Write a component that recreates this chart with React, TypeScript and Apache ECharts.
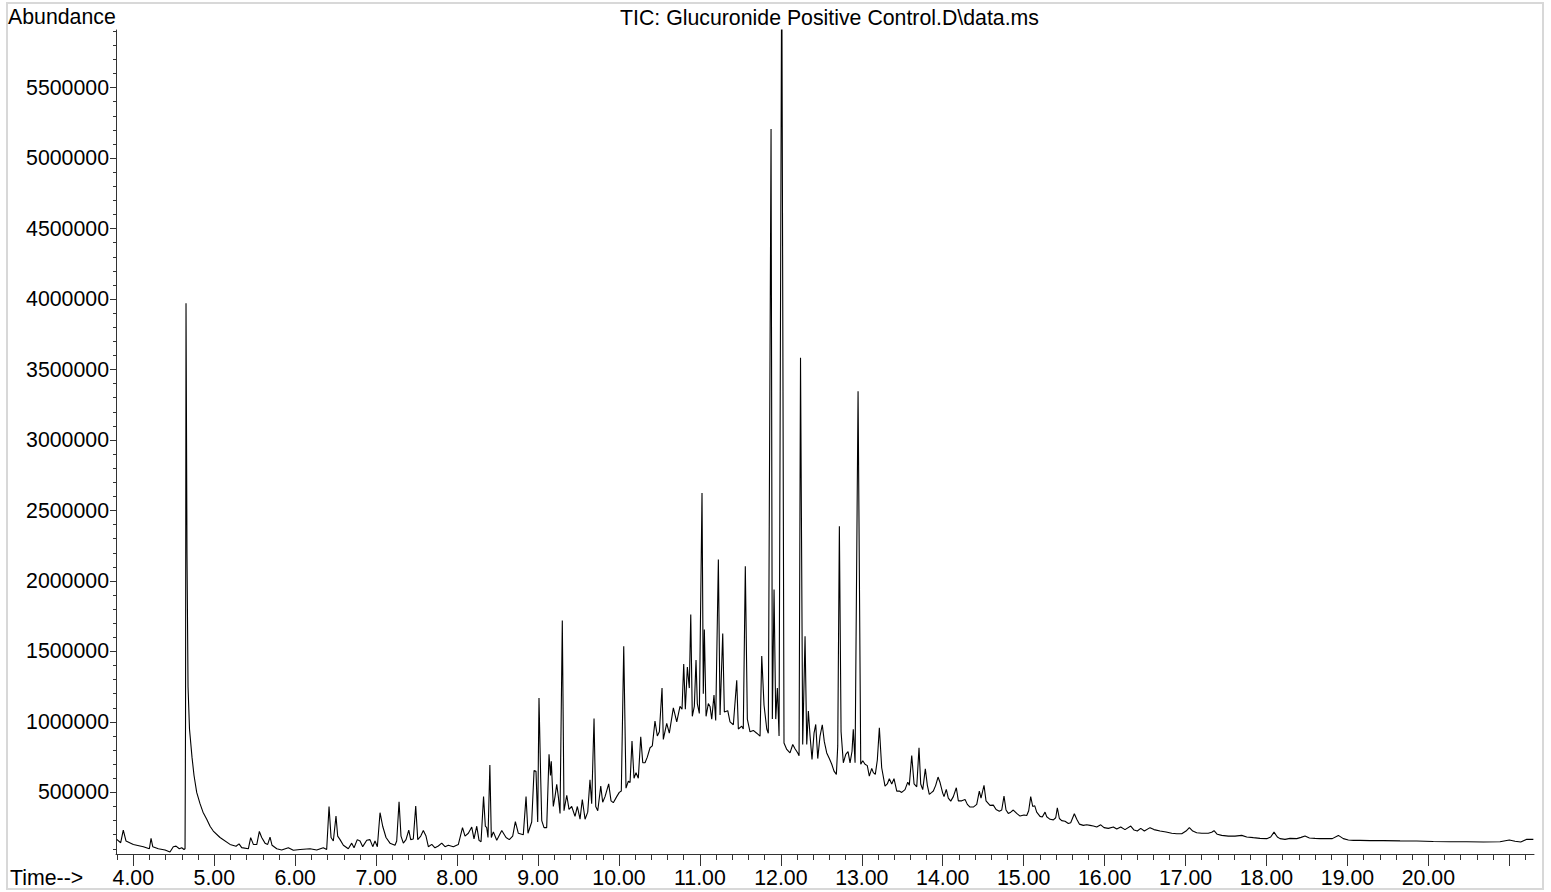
import React, { useEffect, useRef } from "react";
import * as echarts from "echarts";

// Retention time (min)
const TIMES = [
  3.795, 3.844, 3.876, 3.910, 4.000, 4.124, 4.198, 4.219, 4.240, 4.309, 4.392, 4.453, 4.494, 4.528, 4.568, 4.598, 4.626, 4.639, 4.645, 4.651,
  4.663, 4.676, 4.694, 4.725, 4.750, 4.783, 4.824, 4.861, 4.907, 4.948, 4.988, 5.071, 5.195, 5.269, 5.306, 5.339, 5.421, 5.450, 5.483, 5.525,
  5.557, 5.586, 5.627, 5.660, 5.689, 5.714, 5.772, 5.833, 5.915, 5.977, 6.060, 6.183, 6.266, 6.347, 6.389, 6.418, 6.443, 6.471, 6.504, 6.525,
  6.554, 6.595, 6.656, 6.698, 6.727, 6.767, 6.801, 6.834, 6.884, 6.924, 6.958, 6.986, 7.015, 7.048, 7.081, 7.122, 7.171, 7.233, 7.254, 7.283,
  7.307, 7.336, 7.369, 7.403, 7.427, 7.459, 7.489, 7.514, 7.551, 7.583, 7.616, 7.645, 7.687, 7.727, 7.768, 7.810, 7.851, 7.892, 7.954, 8.015,
  8.067, 8.098, 8.139, 8.181, 8.209, 8.243, 8.271, 8.296, 8.327, 8.349, 8.366, 8.382, 8.405, 8.423, 8.448, 8.490, 8.552, 8.605, 8.645, 8.687,
  8.720, 8.757, 8.818, 8.852, 8.876, 8.922, 8.951, 8.975, 8.996, 9.012, 9.033, 9.046, 9.074, 9.107, 9.136, 9.154, 9.164, 9.189, 9.210, 9.231,
  9.251, 9.272, 9.300, 9.321, 9.355, 9.383, 9.416, 9.457, 9.486, 9.519, 9.547, 9.581, 9.614, 9.642, 9.663, 9.692, 9.713, 9.738, 9.775, 9.799,
  9.828, 9.873, 9.902, 9.930, 9.972, 10.004, 10.029, 10.059, 10.087, 10.116, 10.137, 10.161, 10.186, 10.211, 10.239, 10.269, 10.294, 10.322, 10.350, 10.384,
  10.412, 10.445, 10.474, 10.499, 10.532, 10.548, 10.590, 10.622, 10.672, 10.714, 10.754, 10.779, 10.800, 10.820, 10.845, 10.869, 10.887, 10.906, 10.931, 10.952,
  10.968, 10.993, 11.026, 11.042, 11.055, 11.076, 11.104, 11.125, 11.146, 11.174, 11.195, 11.228, 11.249, 11.282, 11.302, 11.344, 11.372, 11.413, 11.455, 11.475,
  11.517, 11.536, 11.561, 11.586, 11.619, 11.660, 11.702, 11.743, 11.764, 11.792, 11.826, 11.845, 11.879, 11.895, 11.916, 11.937, 11.957, 11.978, 12.011, 12.039,
  12.073, 12.113, 12.147, 12.175, 12.209, 12.225, 12.243, 12.270, 12.299, 12.320, 12.340, 12.361, 12.385, 12.410, 12.431, 12.456, 12.484, 12.512, 12.537, 12.567,
  12.599, 12.629, 12.657, 12.686, 12.703, 12.723, 12.744, 12.772, 12.802, 12.830, 12.855, 12.879, 12.895, 12.917, 12.954, 12.987, 13.012, 13.040, 13.068, 13.093,
  13.123, 13.143, 13.167, 13.192, 13.217, 13.246, 13.287, 13.315, 13.340, 13.370, 13.398, 13.432, 13.464, 13.493, 13.534, 13.568, 13.587, 13.617, 13.646, 13.679,
  13.707, 13.728, 13.753, 13.785, 13.810, 13.834, 13.864, 13.884, 13.913, 13.942, 13.967, 14.000, 14.016, 14.044, 14.069, 14.099, 14.131, 14.168, 14.193, 14.235,
  14.276, 14.304, 14.337, 14.378, 14.420, 14.452, 14.473, 14.510, 14.535, 14.584, 14.625, 14.659, 14.699, 14.729, 14.757, 14.782, 14.810, 14.840, 14.872, 14.914,
  14.955, 15.004, 15.038, 15.062, 15.087, 15.112, 15.137, 15.161, 15.202, 15.230, 15.264, 15.285, 15.326, 15.367, 15.396, 15.416, 15.441, 15.470, 15.511, 15.552,
  15.581, 15.626, 15.656, 15.688, 15.737, 15.779, 15.820, 15.861, 15.903, 15.952, 15.993, 16.046, 16.108, 16.150, 16.199, 16.252, 16.323, 16.364, 16.404, 16.446,
  16.491, 16.561, 16.610, 16.685, 16.759, 16.829, 16.891, 16.953, 17.006, 17.047, 17.089, 17.138, 17.200, 17.281, 17.323, 17.352, 17.392, 17.447, 17.529, 17.611,
  17.694, 17.756, 17.837, 17.920, 18.003, 18.052, 18.093, 18.134, 18.167, 18.229, 18.291, 18.374, 18.427, 18.476, 18.530, 18.600, 18.662, 18.744, 18.813, 18.888,
  18.949, 19.011, 19.073, 19.156, 19.279, 19.444, 19.650, 19.856, 20.061, 20.268, 20.474, 20.679, 20.885, 21.000, 21.071, 21.141, 21.215, 21.297,
];

// Total ion current abundance
const ABUNDANCE = [
  167000, 143000, 233000, 155000, 131000, 115000, 100000, 174000, 115000, 100000, 91000, 77000, 115000, 119000, 100000, 107000, 95000, 100000, 1000000, 3970000,
  2200000, 1250000, 950000, 750000, 620000, 500000, 420000, 360000, 310000, 260000, 226000, 180000, 131000, 118000, 135000, 108000, 100000, 179000, 131000, 130000,
  223000, 180000, 140000, 131000, 183000, 125000, 100000, 91000, 107000, 90000, 95000, 100000, 91000, 107000, 95000, 400000, 180000, 155000, 332000, 190000,
  165000, 125000, 100000, 140000, 107000, 165000, 155000, 115000, 160000, 165000, 115000, 155000, 115000, 356000, 260000, 180000, 140000, 125000, 155000, 434000,
  190000, 140000, 165000, 233000, 165000, 170000, 403000, 165000, 190000, 230000, 190000, 115000, 131000, 107000, 120000, 140000, 115000, 125000, 115000, 130000,
  250000, 190000, 210000, 254000, 170000, 260000, 160000, 150000, 470000, 260000, 250000, 180000, 695000, 180000, 220000, 160000, 230000, 180000, 165000, 190000,
  292000, 210000, 200000, 470000, 210000, 290000, 656000, 650000, 290000, 1170000, 600000, 300000, 250000, 250000, 770000, 620000, 720000, 400000, 470000, 557000,
  470000, 350000, 1720000, 370000, 480000, 380000, 400000, 330000, 400000, 310000, 450000, 310000, 360000, 590000, 420000, 1025000, 400000, 370000, 545000, 430000,
  470000, 560000, 440000, 427000, 470000, 500000, 510000, 1537000, 530000, 580000, 570000, 864000, 600000, 640000, 600000, 895000, 710000, 710000, 750000, 817000,
  830000, 1006000, 900000, 930000, 1240000, 876000, 990000, 920000, 1100000, 1000000, 1110000, 1090000, 1410000, 1090000, 1390000, 1240000, 1762000, 1040000, 1110000, 1440000,
  1130000, 1060000, 2625000, 1200000, 1656000, 1040000, 1130000, 1110000, 1020000, 1190000, 1010000, 2152000, 1050000, 1628000, 1070000, 1080000, 1000000, 980000, 1296000, 950000,
  970000, 950000, 2105000, 1020000, 930000, 940000, 920000, 899000, 1467000, 1120000, 950000, 920000, 5207000, 1020000, 1940000, 1020000, 1240000, 900000, 6500000, 850000,
  805000, 780000, 840000, 810000, 780000, 760000, 3583000, 840000, 1608000, 840000, 1077000, 900000, 734000, 920000, 982000, 740000, 900000, 980000, 860000, 780000,
  740000, 700000, 651000, 628000, 830000, 2389000, 930000, 710000, 770000, 790000, 710000, 790000, 947000, 710000, 3346000, 700000, 725000, 700000, 690000, 616000,
  670000, 640000, 628000, 730000, 959000, 675000, 545000, 560000, 597000, 560000, 597000, 509000, 510000, 500000, 520000, 573000, 550000, 762000, 560000, 540000,
  817000, 560000, 520000, 668000, 550000, 486000, 500000, 510000, 550000, 609000, 570000, 495000, 470000, 521000, 460000, 438000, 470000, 533000, 440000, 440000,
  450000, 415000, 396000, 396000, 415000, 509000, 460000, 550000, 440000, 408000, 410000, 379000, 367000, 375000, 474000, 375000, 351000, 360000, 375000, 351000,
  332000, 340000, 336000, 370000, 470000, 400000, 405000, 360000, 330000, 325000, 360000, 327000, 309000, 305000, 320000, 391000, 315000, 300000, 295000, 280000,
  285000, 349000, 310000, 275000, 266000, 270000, 266000, 262000, 255000, 270000, 250000, 245000, 255000, 240000, 255000, 236000, 261000, 233000, 226000, 245000,
  226000, 250000, 236000, 226000, 219000, 210000, 207000, 207000, 226000, 250000, 226000, 214000, 210000, 210000, 217000, 228000, 203000, 195000, 190000, 190000,
  195000, 184000, 179000, 174000, 172000, 184000, 218000, 184000, 172000, 167000, 174000, 172000, 181000, 190000, 177000, 174000, 172000, 172000, 172000, 195000,
  172000, 162000, 160000, 160000, 158000, 158000, 156000, 155000, 152000, 150000, 150000, 148000, 150000, 162000, 153000, 148000, 167000, 167000,
];

const X_LABEL_VALUES = [4, 5, 6, 7, 8, 9, 10, 11, 12, 13, 14, 15, 16, 17, 18, 19, 20];
const X_MAJOR_TICKS = [4, 5, 6, 7, 8, 9, 10, 11, 12, 13, 14, 15, 16, 17, 18, 19, 20, 21];
const Y_LABEL_VALUES = [500000, 1000000, 1500000, 2000000, 2500000, 3000000, 3500000, 4000000, 4500000, 5000000, 5500000];

const X_MIN = 3.786;
const X_MAX = 21.305;
const Y_MIN = 63000;
const Y_MAX = 5909000;

const TITLE = "TIC: Glucuronide Positive Control.D\\data.ms";
const Y_NAME = "Abundance";
const X_NAME = "Time-->";

const X_MINOR_TICKS: number[] = [];
for (let i = 19; i <= 106; i++) X_MINOR_TICKS.push(+(i * 0.2).toFixed(1));
const Y_MINOR_TICKS: number[] = [];
for (let i = 1; i <= 59; i++) Y_MINOR_TICKS.push(i * 100000);

const FONT = '"Liberation Sans", Arial, Helvetica, sans-serif';
const FS = 21.3;
const AXIS_COLOR = "#333";

export default function App() {
  const ref = useRef<HTMLDivElement>(null);
  useEffect(() => {
    if (!ref.current) return;
    const chart = echarts.init(ref.current, null, { renderer: "svg" });
    const data = TIMES.map((t, i) => [t, ABUNDANCE[i]]);
    chart.setOption({
      animation: false,
      backgroundColor: "#ffffff",
      grid: { left: 116, right: 17, top: 30, bottom: 38, containLabel: false, outerBoundsMode: "none" },
      xAxis: [
        {
          type: "value",
          min: X_MIN,
          max: X_MAX,
          position: "bottom",
          axisLine: { show: true, lineStyle: { color: AXIS_COLOR, width: 1 } },
          axisTick: { show: true, customValues: X_MAJOR_TICKS, length: 12, lineStyle: { color: AXIS_COLOR, width: 1 } },
          axisLabel: {
            show: true,
            customValues: X_LABEL_VALUES,
            formatter: (v: number) => v.toFixed(2),
            fontSize: FS,
            fontFamily: FONT,
            color: "#000",
            margin: 13,
          },
          splitLine: { show: false },
        },
        {
          type: "value",
          min: X_MIN,
          max: X_MAX,
          position: "bottom",
          axisLine: { show: false },
          axisTick: { show: true, customValues: X_MINOR_TICKS, length: 6, lineStyle: { color: AXIS_COLOR, width: 1 } },
          axisLabel: { show: false },
          splitLine: { show: false },
        },
      ],
      yAxis: [
        {
          type: "value",
          min: Y_MIN,
          max: Y_MAX,
          position: "left",
          axisLine: { show: true, lineStyle: { color: AXIS_COLOR, width: 1 } },
          axisTick: { show: true, customValues: Y_LABEL_VALUES, length: 6, lineStyle: { color: AXIS_COLOR, width: 1 } },
          axisLabel: {
            show: true,
            customValues: Y_LABEL_VALUES,
            formatter: (v: number) => String(Math.round(v)),
            fontSize: FS,
            fontFamily: FONT,
            color: "#000",
            margin: 7,
          },
          splitLine: { show: false },
        },
        {
          type: "value",
          min: Y_MIN,
          max: Y_MAX,
          position: "left",
          axisLine: { show: false },
          axisTick: { show: true, customValues: Y_MINOR_TICKS, length: 3, lineStyle: { color: AXIS_COLOR, width: 1 } },
          axisLabel: { show: false },
          splitLine: { show: false },
        },
      ],
      series: [
        {
          type: "line",
          xAxisIndex: 0,
          yAxisIndex: 0,
          data,
          showSymbol: false,
          symbol: "none",
          clip: true,
          lineStyle: { color: "#000", width: 1.1 },
          emphasis: { disabled: true },
        },
      ],
      graphic: [
        {
          type: "rect",
          silent: true,
          z: -10,
          shape: { x: 7, y: 3, width: 1536, height: 886 },
          style: { fill: "none", stroke: "#d8d8d8", lineWidth: 2 },
        },
        {
          type: "text",
          x: 8,
          y: 16.5,
          style: { text: Y_NAME, fontSize: FS, fontFamily: FONT, fill: "#000", align: "left", verticalAlign: "middle" },
        },
        {
          type: "text",
          x: 620,
          y: 18,
          style: { text: TITLE, fontSize: FS, fontFamily: FONT, fill: "#000", align: "left", verticalAlign: "middle" },
        },
        {
          type: "text",
          x: 10,
          y: 878.3,
          style: { text: X_NAME, fontSize: FS, fontFamily: FONT, fill: "#000", align: "left", verticalAlign: "middle" },
        },
      ],
    });
    return () => chart.dispose();
  }, []);
  return <div ref={ref} style={{ position: "fixed", left: 0, top: 0, width: 1551, height: 892 }} />;
}
